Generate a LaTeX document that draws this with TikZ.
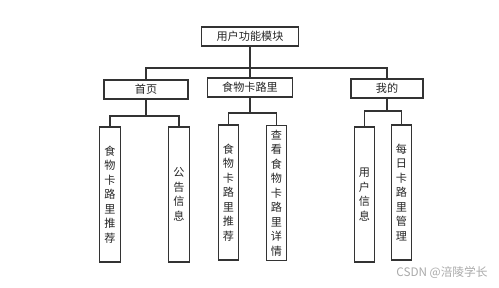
\documentclass[tikz,border=0pt]{standalone}
\usepackage{fontspec}
\setmainfont{Noto Sans CJK SC}
\definecolor{linegray}{HTML}{333333}
\definecolor{markgray}{HTML}{AAAAAA}
\begin{document}
\begin{tikzpicture}[x=0.03cm, y=-0.03cm, line width=1.1pt, draw=linegray,
    box/.style={draw=linegray, fill=white, inner sep=0pt, minimum height=0.57cm,
        font=\fontsize{9.5}{11}\selectfont, text=black!85},
    leaf/.style={draw=linegray, fill=white, inner sep=0pt, minimum width=0.62cm,
        minimum height=4.05cm, align=center, font=\fontsize{9.5}{12.4}\selectfont, text=black!85}]
    \useasboundingbox (0,0) rectangle (499,288);
    \fill[white] (0,0) rectangle (499,288);

    % top level
    \node[box, minimum width=2.91cm] (root) at (250,36.5) {用户功能模块};

    % second level
    \node[box, minimum width=2.52cm] (home) at (146,89.5) {首页};
    \node[box, minimum width=2.55cm] (food) at (250,87.5) {食物卡路里};
    \node[box, minimum width=2.16cm] (mine) at (387,88.5) {我的};

    \coordinate (j0) at (250,68);
    \draw (root.south) -- (j0);
    \draw (home.north) |- (j0) -| (mine.north);
    \draw (j0) -- (food.north);

    % leaves under 首页
    \node[leaf] (h1) at (110,194.5) {食\\物\\卡\\路\\里\\推\\荐};
    \node[leaf] (h2) at (179,194.5) {公\\告\\信\\息};
    \coordinate (j1) at (146,116);
    \draw (home.south) -- (j1);
    \draw (h1.north) |- (j1) -| (h2.north);

    % leaves under 食物卡路里
    \node[leaf] (f1) at (228.5,192.5) {食\\物\\卡\\路\\里\\推\\荐};
    \node[leaf] (f2) at (276.5,193) {查\\看\\食\\物\\卡\\路\\里\\详\\情};
    \coordinate (j2) at (250,113);
    \draw (food.south) -- (j2);
    \draw (f1.north) |- (j2) -| (f2.north);

    % leaves under 我的
    \node[leaf] (m1) at (364.5,194.5) {用\\户\\信\\息};
    \node[leaf] (m2) at (401.5,192.5) {每\\日\\卡\\路\\里\\管\\理};
    \coordinate (j3) at (387,111);
    \draw (mine.south) -- (j3);
    \draw (m1.north) |- (j3) -| (m2.north);

    % watermark
    \node[text=markgray, font=\fontsize{10}{12}\selectfont] (mark) at (442,273) {CSDN @涪陵学长};
\end{tikzpicture}
\end{document}
